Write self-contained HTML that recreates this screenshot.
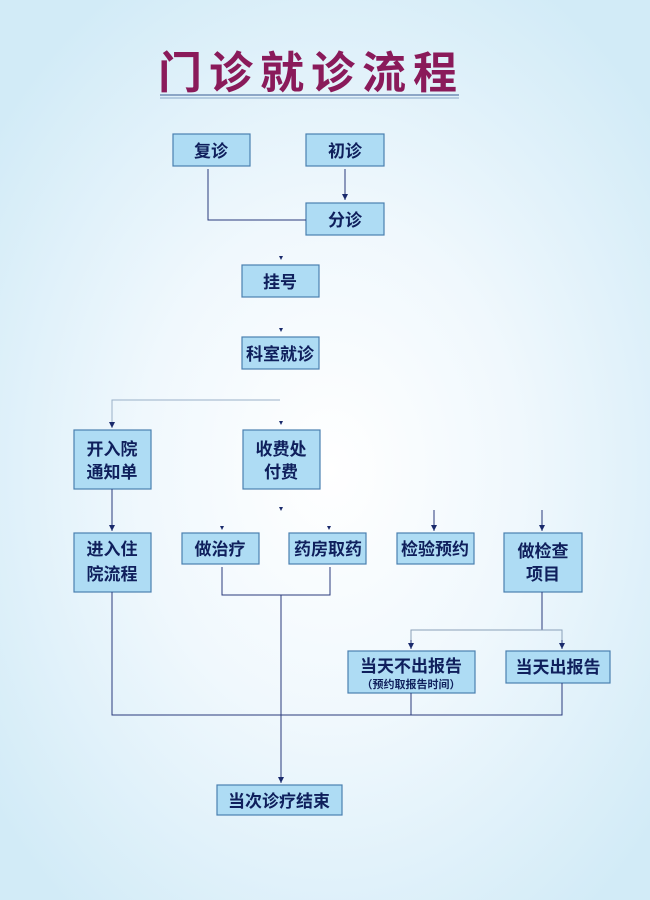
<!DOCTYPE html>
<html><head><meta charset="utf-8"><style>
html,body{margin:0;padding:0}
body{width:650px;height:900px;overflow:hidden;background:radial-gradient(ellipse 420px 560px at 330px 470px,#ffffff 0%,#f0f8fd 45%,#d2ebf7 100%);}
svg{display:block}
text{font-family:"Liberation Sans","Noto Sans CJK SC",sans-serif;fill:#0f1f5c;font-weight:bold;}
</style></head><body>
<svg width="650" height="900" viewBox="0 0 650 900">
<defs><marker id="a" markerWidth="6" markerHeight="6" refX="6" refY="3" orient="auto" markerUnits="userSpaceOnUse"><path d="M0,0 L6,3 L0,6z" fill="#1a2a6c"/></marker></defs>
<text x="311" y="88" text-anchor="middle" style="font-family:'WenQuanYi Zen Hei','Noto Sans CJK SC',sans-serif;fill:#8a1a5a;font-size:44px;font-weight:bold;letter-spacing:7px">门诊就诊流程</text>
<line x1="160" y1="95" x2="459" y2="95" stroke="#5a7aa8" stroke-width="1.2"/>
<line x1="160" y1="98" x2="459" y2="98" stroke="#8aa8c8" stroke-width="1"/>
<g fill="#aedcf4" stroke="#4a80b0" stroke-width="1.2">
<rect x="173" y="134" width="77" height="32"/>
<rect x="306" y="134" width="78" height="32"/>
<rect x="306" y="203" width="78" height="32"/>
<rect x="242" y="265" width="77" height="32"/>
<rect x="242" y="337" width="77" height="32"/>
<rect x="74" y="430" width="77" height="59"/>
<rect x="243" y="430" width="77" height="59"/>
<rect x="74" y="533" width="77" height="59"/>
<rect x="182" y="533" width="77" height="31"/>
<rect x="289" y="533" width="77" height="31"/>
<rect x="397" y="533" width="77" height="31"/>
<rect x="504" y="533" width="78" height="59"/>
<rect x="348" y="651" width="127" height="42"/>
<rect x="506" y="651" width="104" height="32"/>
<rect x="217" y="785" width="125" height="30"/>
</g>
<g stroke="#2a3a7c" stroke-width="1" fill="none">
<polyline points="208,169 208,220 306,220"/>
<line x1="345" y1="169" x2="345" y2="200" marker-end="url(#a)"/>
<polyline points="280,400 112,400 112,428" stroke="#9ab0c8" marker-end="url(#a)"/>
<line x1="112" y1="489" x2="112" y2="531" marker-end="url(#a)"/>
<line x1="434" y1="510" x2="434" y2="531" marker-end="url(#a)"/>
<line x1="542" y1="510" x2="542" y2="531" marker-end="url(#a)"/>
<polyline points="222,567 222,595 330,595 330,567"/>
<line x1="281" y1="595" x2="281" y2="783" marker-end="url(#a)"/>
<line x1="542" y1="592" x2="542" y2="630"/>
<polyline points="411,646 411,630 562,630 562,646" stroke="#8aa0b8"/>
<line x1="411" y1="640" x2="411" y2="649" marker-end="url(#a)"/>
<line x1="562" y1="640" x2="562" y2="649" marker-end="url(#a)"/>
<polyline points="112,592 112,715 562,715 562,683"/>
<line x1="411" y1="693" x2="411" y2="715"/>
</g>
<g fill="#1a2a6c">
<path d="M279,256h4l-2,4z"/><path d="M279,328h4l-2,4z"/><path d="M279,421h4l-2,4z"/><path d="M279,507h4l-2,4z"/>
<path d="M220,526h4l-2,4z"/><path d="M327,526h4l-2,4z"/>
</g>
<g font-size="17" text-anchor="middle">
<text x="211" y="157">复诊</text>
<text x="345" y="157">初诊</text>
<text x="345" y="226">分诊</text>
<text x="280" y="288">挂号</text>
<text x="280" y="360">科室就诊</text>
<text x="112" y="455">开入院</text><text x="112" y="478">通知单</text>
<text x="281" y="455">收费处</text><text x="281" y="478">付费</text>
<text x="112" y="555">进入住</text><text x="112" y="580">院流程</text>
<text x="220" y="555">做治疗</text>
<text x="328" y="555">药房取药</text>
<text x="435" y="555">检验预约</text>
<text x="543" y="557">做检查</text><text x="543" y="580">项目</text>
<text x="411" y="672">当天不出报告</text>
<text x="411" y="688" font-size="11" font-weight="normal">（预约取报告时间）</text>
<text x="558" y="673">当天出报告</text>
<text x="279" y="807">当次诊疗结束</text>
</g>
</svg>
</body></html>
